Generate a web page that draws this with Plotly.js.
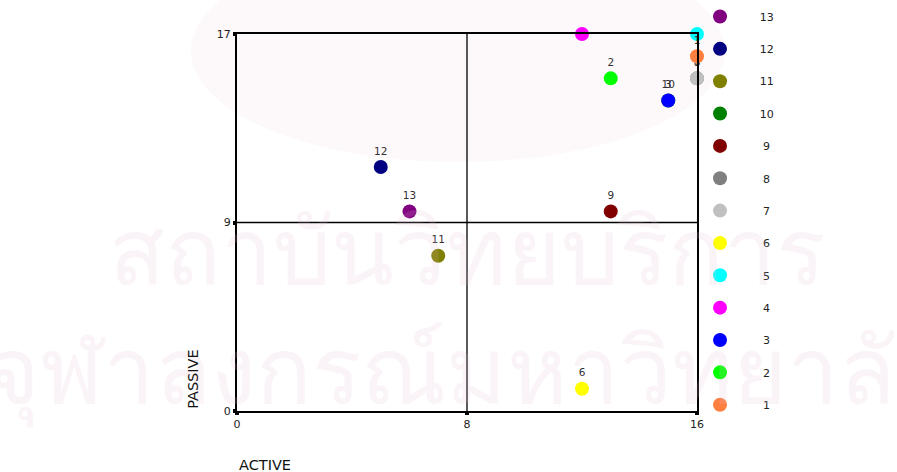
<!DOCTYPE html>
<html>
<head>
<meta charset="utf-8">
<script src="https://cdn.plot.ly/plotly-3.0.1.min.js"></script>
<style>html,body{margin:0;padding:0;background:#fff;}#chart{width:897px;height:472px;}</style>
</head>
<body>
<div id="chart"></div>
<script>
// Data (drawn in this order: 13 first ... 1 last)
const ids     = ['13','12','11','10','9','8','7','6','5','4','3','2','1'];
const active  = [6, 5, 7, 15, 13, 16, 16, 12, 16, 12, 15, 13, 16];
const passive = [9, 11, 7, 14, 9, 15, 15, 1, 17, 17, 14, 15, 16];
const pointLabels = ['13','12','11','10','9','8','7','6','','','3','2','1'];
const colors  = ['#800080','#000080','#808000','#008000','#800000','#808080','#c0c0c0',
                 '#ffff00','#00ffff','#ff00ff','#0000ff','#00ff00','#ff7f40'];
const xTicks = [0, 8, 16];
const xTickText = ['0','8','16'];
const yTicks = [0, 8.5, 17];
const yTickText = ['0','9','17'];

const FONT = 'DejaVu Sans, Verdana, sans-serif';
// legend label padding (centres labels in the legend's text column)
const pad = s => (s.length > 1 ? '\u2003\u2002\u2009' : '\u2003\u2003') + s;

const traces = ids.map((id, i) => ({
  type: 'scatter',
  mode: 'markers+text',
  name: pad(id),
  legendgroup: 'g' + id,
  x: [active[i]],
  y: [passive[i]],
  text: [pointLabels[i]],
  textposition: 'top center',
  textfont: {family: FONT, size: 10.5, color: '#333'},
  cliponaxis: false,
  marker: {size: 14, color: colors[i], line: {width: 0}},
  hoverinfo: 'x+y+name'
}));

const WM = 'rgba(225,185,205,0.17)';

const layout = {
  width: 897, height: 472,
  margin: {l: 237, r: 200, t: 34, b: 61},
  paper_bgcolor: '#ffffff',
  plot_bgcolor: 'rgba(0,0,0,0)',
  showlegend: true,
  legend: {
    xref: 'container', yref: 'container',
    x: 0.7793, y: 0.9958, xanchor: 'left', yanchor: 'top',
    itemwidth: 32, tracegroupgap: 13.35, maxheight: 470,
    font: {family: FONT, size: 11, color: '#222'},
    bgcolor: 'rgba(0,0,0,0)'
  },
  xaxis: {
    range: [0, 16], tickvals: xTicks, ticktext: xTickText,
    showgrid: false, zeroline: false, automargin: false,
    showline: true, linecolor: '#000', linewidth: 2, mirror: true,
    ticks: 'outside', ticklen: 2, tickwidth: 4, tickcolor: '#000',
    tickfont: {family: FONT, size: 11, color: '#222'}
  },
  yaxis: {
    range: [0, 17], tickvals: yTicks, ticktext: yTickText,
    showgrid: false, zeroline: false, automargin: false,
    showline: true, linecolor: '#000', linewidth: 2, mirror: true,
    ticks: 'outside', ticklen: 2, tickwidth: 4, tickcolor: '#000',
    tickfont: {family: FONT, size: 11, color: '#222'}
  },
  shapes: [
    {type: 'circle', xref: 'paper', yref: 'paper', layer: 'below',
     x0: -0.1, x1: 1.06, y0: 0.66, y1: 1.25,
     fillcolor: '#fdf8fa', line: {width: 0}},
    {type: 'line', xref: 'x', yref: 'y', x0: 8, x1: 8, y0: 0, y1: 17,
     line: {color: '#000', width: 1.3}},
    {type: 'line', xref: 'x', yref: 'y', x0: 0, x1: 16, y0: 8.5, y1: 8.5,
     line: {color: '#000', width: 1.3}}
  ],
  annotations: [
    {text: 'สถาบันวิทยบริการ', xref: 'paper', yref: 'paper', x: 0.5, y: 0.43,
     xanchor: 'center', yanchor: 'middle', showarrow: false,
     font: {family: 'Noto Sans, DejaVu Sans, sans-serif', size: 92, color: WM}},
    {text: 'จุฬาลงกรณ์มหาวิทยาลัย', xref: 'paper', yref: 'paper', x: 0.5, y: 0.115,
     xanchor: 'center', yanchor: 'middle', showarrow: false,
     font: {family: 'Noto Sans, DejaVu Sans, sans-serif', size: 92, color: WM}},
    {text: 'ACTIVE', xref: 'paper', yref: 'paper', x: 0, y: -0.143,
     xanchor: 'left', yanchor: 'middle', showarrow: false,
     font: {family: FONT, size: 14.5, color: '#111'}},
    {text: 'PASSIVE', xref: 'paper', yref: 'paper', x: -0.096, y: 0,
     xanchor: 'center', yanchor: 'bottom', textangle: -90, showarrow: false,
     font: {family: FONT, size: 14.5, color: '#111'}}
  ]
};

Plotly.newPlot('chart', traces, layout, {displayModeBar: false, staticPlot: true});
</script>
</body>
</html>
